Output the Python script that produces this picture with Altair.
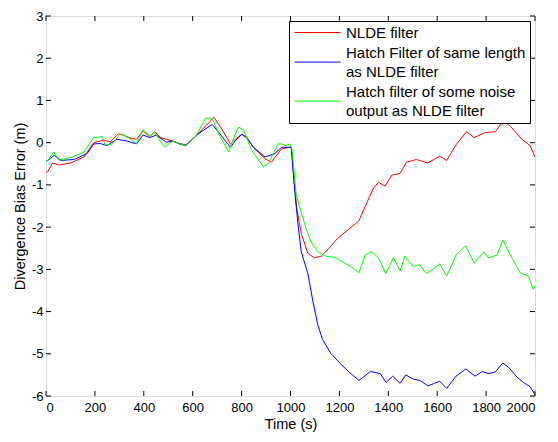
import altair as alt
import pandas as pd

# ---- data ----
red_t = [0, 7, 27, 54, 101, 155, 195, 236, 263, 296, 316, 350, 370, 397, 424, 444, 470, 492, 518, 545,
         572, 613, 640, 687, 720, 754, 774, 801, 822, 855, 896, 922, 963, 997, 1003, 1024, 1044, 1071,
         1098, 1125, 1158, 1192, 1232, 1280, 1306, 1340, 1360, 1387, 1414, 1448, 1475, 1515, 1562, 1610,
         1639, 1677, 1720, 1751, 1798, 1838, 1859, 1880, 1899, 1946, 1980, 2000]
red_v = [-0.70, -0.69, -0.48, -0.53, -0.48, -0.34, 0.00, 0.06, 0.02, 0.21, 0.18, 0.10, 0.08, 0.28, 0.14,
         0.26, 0.12, 0.08, 0.04, -0.02, -0.05, 0.15, 0.32, 0.60, 0.31, -0.03, 0.08, 0.20, 0.10, -0.15,
         -0.38, -0.46, -0.15, -0.11, -0.10, -1.50, -2.15, -2.62, -2.73, -2.69, -2.50, -2.27, -2.08, -1.85,
         -1.50, -1.07, -0.94, -1.03, -0.77, -0.73, -0.46, -0.40, -0.48, -0.32, -0.42, -0.05, 0.26, 0.12,
         0.24, 0.26, 0.43, 0.47, 0.39, 0.08, -0.07, -0.34]

blue_t = [0, 34, 61, 114, 168, 195, 222, 249, 290, 330, 370, 397, 424, 451, 492, 518, 545, 572, 613, 640,
          680, 707, 754, 774, 801, 822, 848, 896, 936, 963, 1003, 1017, 1030, 1044, 1071, 1091, 1111,
          1131, 1165, 1205, 1239, 1280, 1327, 1367, 1391, 1418, 1448, 1472, 1502, 1529, 1562, 1589,
          1610, 1639, 1677, 1717, 1755, 1784, 1811, 1838, 1868, 1892, 1926, 1953, 1980, 2000]
blue_v = [-0.45, -0.30, -0.42, -0.40, -0.26, -0.03, -0.02, -0.07, 0.08, 0.04, -0.03, 0.18, 0.12, 0.18,
          0.01, 0.04, -0.03, -0.07, 0.16, 0.28, 0.43, 0.24, -0.11, 0.04, 0.20, 0.12, -0.11, -0.34, -0.26,
          -0.11, -0.11, -1.11, -1.90, -2.58, -3.10, -3.74, -4.30, -4.66, -4.99, -5.24, -5.43, -5.63,
          -5.42, -5.47, -5.68, -5.53, -5.70, -5.50, -5.60, -5.63, -5.76, -5.70, -5.65, -5.82, -5.53,
          -5.36, -5.53, -5.42, -5.47, -5.43, -5.22, -5.32, -5.55, -5.68, -5.78, -5.97]

green_t = [0, 7, 31, 54, 108, 155, 195, 229, 242, 269, 303, 337, 370, 397, 424, 444, 485, 518, 545, 572,
           613, 653, 680, 707, 747, 774, 788, 808, 842, 889, 909, 949, 963, 983, 997, 1006, 1024, 1044,
           1064, 1084, 1111, 1145, 1185, 1219, 1246, 1280, 1306, 1333, 1360, 1390, 1421, 1448, 1468,
           1502, 1529, 1556, 1582, 1610, 1639, 1677, 1717, 1751, 1791, 1811, 1845, 1868, 1899, 1939,
           1973, 1993, 2000]
green_v = [-0.45, -0.42, -0.22, -0.42, -0.34, -0.22, 0.12, 0.14, -0.05, -0.05, 0.21, 0.12, -0.02, 0.31,
           0.16, 0.24, -0.11, 0.04, -0.02, -0.07, 0.15, 0.58, 0.58, 0.20, -0.22, 0.20, 0.37, 0.30, -0.19,
           -0.57, -0.50, -0.03, -0.03, -0.07, -0.03, -0.15, -1.27, -1.65, -2.04, -2.35, -2.58, -2.69,
           -2.72, -2.85, -2.93, -3.08, -2.66, -2.58, -2.73, -3.10, -2.72, -3.04, -2.69, -2.93, -2.89,
           -3.10, -3.00, -2.87, -3.16, -2.66, -2.44, -2.85, -2.59, -2.73, -2.66, -2.31, -2.66, -3.08,
           -3.16, -3.47, -3.40]

series_names = ["NLDE filter",
                "Hatch Filter of same length|as NLDE filter",
                "Hatch filter of some noise|output as NLDE filter"]
series_colors = ["#ff0000", "#0000ff", "#00ff00"]
x_ticks = [0, 200, 400, 600, 800, 1000, 1200, 1400, 1600, 1800, 2000]
y_ticks = [-6, -5, -4, -3, -2, -1, 0, 1, 2, 3]

rows = []
for name, ts, vs in zip(series_names, [red_t, blue_t, green_t], [red_v, blue_v, green_v]):
    assert len(ts) == len(vs), name
    for t, v in zip(ts, vs):
        rows.append({"series": name, "t": t, "v": v})
df = pd.DataFrame(rows)
xt_df = pd.DataFrame({"t": x_ticks})
yt_df = pd.DataFrame({"v": y_ticks})

W, H = 489, 380
TICK = 5
FONT = "Liberation Sans"
x_scale = alt.Scale(domain=[0, 2000], nice=False, zero=False)
y_scale = alt.Scale(domain=[-6, 3], nice=False, zero=False)

axis_style = dict(domain=False, grid=False, ticks=False, tickSize=0, labelColor="black",
                  labelFont=FONT, labelFontSize=13, titleFont=FONT, titleFontSize=14.5,
                  titleFontWeight="normal", titleColor="black",
                  labelExpr="'' + datum.value")
x_enc = alt.X("t:Q", scale=x_scale,
              axis=alt.Axis(title="Time (s)", values=x_ticks, labelPadding=5, titlePadding=3,
                            **axis_style))
y_enc = alt.Y("v:Q", scale=y_scale,
              axis=alt.Axis(title="Divergence Bias Error (m)", values=y_ticks, labelPadding=3,
                            titlePadding=4, **axis_style))

# legend symbols: a 46px line; entries with two-line labels have the line centred between lines
sym_single = "M-1,0H6.67"
sym_double = "M-1,1.6H6.67"
legend_spec = alt.Legend(title=None, orient="top-right", offset=5,
                         fillColor="white", strokeColor="black", padding=4,
                         symbolSize=144, symbolStrokeWidth=1, symbolOpacity=1,
                         labelFont=FONT, labelFontSize=15, labelColor="black",
                         labelExpr="split(datum.label, '|')", labelLimit=400,
                         labelOffset=38, rowPadding=4, zindex=3)
color_scale = alt.Scale(domain=series_names, range=series_colors)

line_layers = [
    alt.Chart(df).transform_filter(alt.datum.series == name)
    .mark_line(color=col, strokeWidth=1, clip=True)
    .encode(x=x_enc, y=y_enc)
    for name, col in zip(series_names, series_colors)
]

legend_layer = alt.Chart(df).transform_filter("datum.t < 0").mark_point(filled=False).encode(
    x=x_enc, y=y_enc,
    color=alt.Color("series:N", scale=color_scale, legend=legend_spec),
    shape=alt.Shape("series:N",
                    scale=alt.Scale(domain=series_names,
                                    range=[sym_single, sym_double, sym_double]),
                    legend=legend_spec),
)

xt_bottom = alt.Chart(xt_df).mark_rule(color="black", strokeWidth=1).encode(
    x=x_enc, y=alt.value(H - TICK), y2=alt.value(H))
xt_top = alt.Chart(xt_df).mark_rule(color="black", strokeWidth=1).encode(
    x=x_enc, y=alt.value(0), y2=alt.value(TICK))
yt_left = alt.Chart(yt_df).mark_rule(color="black", strokeWidth=1).encode(
    y=y_enc, x=alt.value(0), x2=alt.value(TICK))
yt_right = alt.Chart(yt_df).mark_rule(color="black", strokeWidth=1).encode(
    y=y_enc, x=alt.value(W - TICK), x2=alt.value(W))

chart = alt.layer(*line_layers, xt_bottom, xt_top, yt_left, yt_right, legend_layer).properties(
    width=W, height=H,
    autosize=alt.AutoSizeParams(type="none"),
    padding={"left": 38, "top": 8, "right": 15, "bottom": 36},
).configure_view(stroke="black", strokeWidth=1).configure(
    background="white", style={"guide-label": {"lineHeight": 19}})

chart.save("out.html", embed_options={"renderer": "svg", "actions": False})
